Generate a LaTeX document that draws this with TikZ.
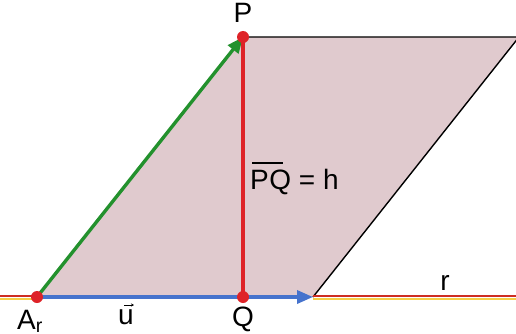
\documentclass[tikz,border=0pt]{standalone}
\usepackage{fontspec}
\setmainfont{Liberation Sans}
\usetikzlibrary{arrows.meta}
\definecolor{fillpink}{RGB}{224,202,206}
\definecolor{gr}{RGB}{35,145,45}
\definecolor{rd}{RGB}{222,35,40}
\definecolor{bl}{RGB}{70,115,205}
\definecolor{ye}{RGB}{245,205,70}
\definecolor{rl}{RGB}{205,45,35}
\tikzset{
  dot/.style={circle,fill=rd,inner sep=0pt,minimum size=12pt},
  lbl/.style={font=\fontsize{28}{32}\selectfont,inner sep=0pt},
  vec/.style={line width=3.4pt,-{Triangle[length=16pt,width=13pt]}},
}
\begin{document}
\begin{tikzpicture}[x=1pt,y=-1pt]
\useasboundingbox (0,0) rectangle (516,334);
\coordinate (A) at (37,297);
\coordinate (P) at (243,37);
\coordinate (Q) at (243,297);
\coordinate (B) at (313,297);
\coordinate (C) at (519,37);
\coordinate (L) at (0,297);
\coordinate (R) at (516,297);
\fill[fillpink] (A) -- (P) -- (C) -- (B) -- cycle;
\draw[line width=1.4pt] (P) -- (C) (B) -- (C);
% line r
\draw[ye,line width=2.4pt] ([yshift=-1.8pt]L) -- ([yshift=-1.8pt]A);
\draw[rl,line width=2.4pt] ([yshift=0.8pt]L) -- ([yshift=0.8pt]A);
\draw[ye,line width=2.4pt] ([yshift=-1.8pt]B) -- ([yshift=-1.8pt]R);
\draw[rl,line width=2.4pt] ([yshift=0.8pt]B) -- ([yshift=0.8pt]R);
\draw[vec,bl] (A) -- (B);
\draw[vec,gr] (A) -- (P);
\draw[rd,line width=3.4pt] (P) -- (Q);
\node[dot] (dA) at (A) {};
\node[dot] (dP) at (P) {};
\node[dot] (dQ) at (Q) {};
\node[lbl] (tP) at (243,13) {P};
\node[lbl,anchor=base] (tA) at (30,329) {A\textsubscript{r}};
\node[lbl,anchor=base] (tu) at (126,324) {u};
\draw[-{Stealth[length=3pt,width=3pt]},line width=0.6pt] (124,305) -- (134,305);
\node[lbl,anchor=base] (tQ) at (243,326) {Q};
\node[lbl,anchor=base] (tr) at (445,290) {r};
\node[lbl,anchor=base west] (th) at (250,189) {P\hspace{0.02em}Q = h};
\draw[line width=1.2pt] (252,163) -- (283,163);
\end{tikzpicture}
\end{document}
